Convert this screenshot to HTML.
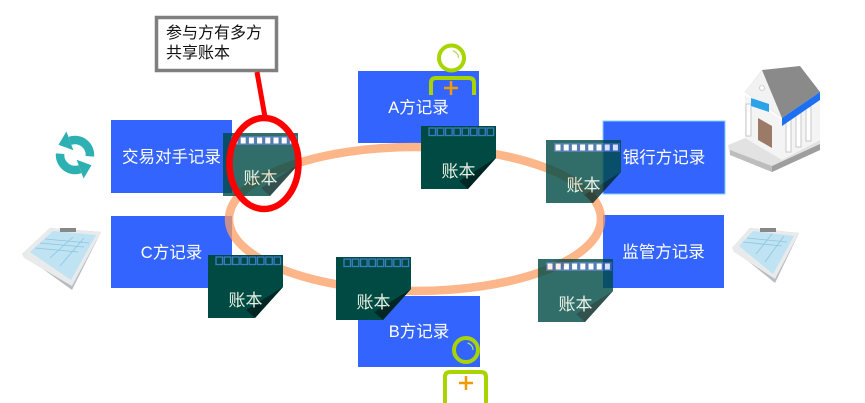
<!DOCTYPE html>
<html><head><meta charset="utf-8">
<style>
html,body{margin:0;padding:0;background:#fff;}
svg{display:block;}
text{font-family:"Liberation Sans","Noto Sans CJK SC",sans-serif;}
</style></head>
<body>
<svg width="865" height="403" viewBox="0 0 865 403" xmlns="http://www.w3.org/2000/svg">
<defs>
  <linearGradient id="fold" x1="0" y1="0" x2="1" y2="1">
    <stop offset="0" stop-color="#00302c"/>
    <stop offset="1" stop-color="#001e1c"/>
  </linearGradient>
  <g id="stripDark">
    <rect x="8" y="2" width="6.5" height="7.5" fill="none" stroke="#3b7cc2" stroke-width="1.3"/>
    <rect x="16.3" y="2" width="6.5" height="7.5" fill="none" stroke="#3b7cc2" stroke-width="1.3"/>
    <rect x="24.6" y="2" width="6.5" height="7.5" fill="none" stroke="#3b7cc2" stroke-width="1.3"/>
    <rect x="32.9" y="2" width="6.5" height="7.5" fill="none" stroke="#3b7cc2" stroke-width="1.3"/>
    <rect x="41.2" y="2" width="6.5" height="7.5" fill="none" stroke="#3b7cc2" stroke-width="1.3"/>
    <rect x="49.5" y="2" width="6.5" height="7.5" fill="none" stroke="#3b7cc2" stroke-width="1.3"/>
    <rect x="57.8" y="2" width="6.5" height="7.5" fill="none" stroke="#3b7cc2" stroke-width="1.3"/>
    <rect x="66.1" y="2" width="6.5" height="7.5" fill="none" stroke="#3b7cc2" stroke-width="1.3"/>
  </g>
  <g id="stripLight">
    <rect x="8" y="3" width="66" height="9" fill="#2d5f9e"/>
    <rect x="9.5" y="4.5" width="5" height="6" fill="#fff"/>
    <rect x="17.7" y="4.5" width="5" height="6" fill="#fff"/>
    <rect x="25.9" y="4.5" width="5" height="6" fill="#fff"/>
    <rect x="34.1" y="4.5" width="5" height="6" fill="#fff"/>
    <rect x="42.3" y="4.5" width="5" height="6" fill="#fff"/>
    <rect x="50.5" y="4.5" width="5" height="6" fill="#fff"/>
    <rect x="58.7" y="4.5" width="5" height="6" fill="#fff"/>
    <rect x="66.9" y="4.5" width="5" height="6" fill="#fff"/>
  </g>
  <g id="card">
    <polygon points="0,0 75,0 75,32 47,63 0,63" fill="#004a44"/>
    <polygon points="75,32 47,63 38,55" fill="url(#fold)"/>
    <text x="37.5" y="51" text-anchor="middle" font-size="17" fill="#e8f0e2">账本</text>
  </g>
  <g id="arrowPiece">
    <path d="M69.9,140.9 A15,15 0 0 1 89.9,156.3" fill="none" stroke="#2db0b2" stroke-width="8.5"/>
    <polygon points="73.4,150.3 66.4,131.5 58.5,144.8" fill="#2db0b2"/>
  </g>
</defs>

<!-- callout box -->
<rect x="156.5" y="17.5" width="120" height="53" fill="#fff" stroke="#7f7f7f" stroke-width="3.5"/>
<text x="166" y="38" font-size="16" fill="#111">参与方有多方</text>
<text x="166" y="58" font-size="16" fill="#111">共享账本</text>

<!-- blue boxes -->
<rect x="111" y="120" width="121" height="73" fill="#3464fe"/>
<text x="171.5" y="162.5" text-anchor="middle" font-size="16.5" fill="#fff">交易对手记录</text>
<rect x="111" y="216" width="121" height="72" fill="#3464fe"/>
<text x="171.5" y="258" text-anchor="middle" font-size="16.5" fill="#fff">C方记录</text>
<rect x="358" y="71" width="121" height="72" fill="#3464fe"/>
<text x="418.5" y="113" text-anchor="middle" font-size="16.5" fill="#fff">A方记录</text>
<rect x="603" y="121" width="122" height="73" fill="#3464fe" stroke="#7fd0ff" stroke-width="1"/>
<text x="664" y="163" text-anchor="middle" font-size="16.5" fill="#fff">银行方记录</text>
<rect x="603" y="215" width="121" height="73" fill="#3464fe"/>
<text x="663.5" y="257.5" text-anchor="middle" font-size="16.5" fill="#fff">监管方记录</text>
<rect x="358" y="296" width="122" height="71" fill="#3464fe"/>
<text x="419" y="337" text-anchor="middle" font-size="16.5" fill="#fff">B方记录</text>

<!-- ring -->
<ellipse cx="415" cy="219" rx="186" ry="72" fill="none" stroke="#fc9e63" stroke-opacity="0.75" stroke-width="8.5"/>

<!-- ledgers -->
<g transform="translate(421,126)"><use href="#card"/><use href="#stripDark"/></g>
<g transform="translate(208,255)"><use href="#card"/><use href="#stripDark"/></g>
<g transform="translate(336,257)"><use href="#card"/><use href="#stripDark"/></g>
<g transform="translate(223,133)" opacity="0.8"><use href="#card"/><use href="#stripLight"/></g>
<g transform="translate(546,140)" opacity="0.8"><use href="#card"/><use href="#stripLight"/></g>
<g transform="translate(538,259)" opacity="0.8"><use href="#card"/><use href="#stripLight"/></g>

<!-- red highlight -->
<line x1="257" y1="72" x2="265" y2="117" stroke="#f00" stroke-width="5"/>
<ellipse cx="264" cy="163.5" rx="34.5" ry="45.5" fill="none" stroke="#f00" stroke-width="6.5"/>

<!-- person A -->
<circle cx="451.5" cy="58" r="12.5" fill="none" stroke="#a8d400" stroke-width="4"/>
<path d="M453,51 A7,7 0 0 1 458.5,58" fill="none" stroke="#b8d860" stroke-width="1.2"/>
<path d="M431,95 V83 Q431,78 436,78 H469 Q474,78 474,83 V95" fill="none" stroke="#a8d400" stroke-width="4"/>
<path d="M444,88 H458 M451,81 V95" stroke="#f39a00" stroke-width="2.5"/>

<!-- person B -->
<circle cx="466" cy="350" r="12" fill="none" stroke="#a8d400" stroke-width="4"/>
<path d="M467.5,343 A7,7 0 0 1 473,350" fill="none" stroke="#b8d860" stroke-width="1.2"/>
<path d="M445,403 V377 Q445,372 450,372 H481 Q486,372 486,377 V403" fill="none" stroke="#a8d400" stroke-width="4"/>
<path d="M459,383 H473 M466,376 V390" stroke="#f39a00" stroke-width="2.5"/>

<!-- refresh icon -->
<use href="#arrowPiece"/>
<use href="#arrowPiece" transform="rotate(180 75 155)"/>

<!-- clipboard left -->
<polygon points="22,254 50,228 101,232 72,290" fill="#b9bcc0"/>
<polygon points="22,254 50,228 101,232 72,286 24,258" fill="#e8eaec"/>
<polygon points="30,252 53,231 96,235 71,280" fill="#bfe3f2"/>
<g stroke="#8cc6e0" stroke-width="0.8">
  <line x1="35" y1="248" x2="78" y2="252"/>
  <line x1="40" y1="243" x2="84" y2="247"/>
  <line x1="45" y1="239" x2="89" y2="243"/>
  <line x1="50" y1="258" x2="73" y2="237"/>
  <line x1="60" y1="266" x2="84" y2="238"/>
</g>
<rect x="60" y="228" width="16" height="4" fill="#888"/>

<!-- clipboard right -->
<polygon points="732,248 750,228 799,233 775,283" fill="#b9bcc0"/>
<polygon points="732,248 750,228 799,233 775,279 734,252" fill="#e8eaec"/>
<polygon points="739,246 753,231 794,236 773,274" fill="#bfe3f2"/>
<g stroke="#8cc6e0" stroke-width="0.8">
  <line x1="743" y1="242" x2="782" y2="246"/>
  <line x1="747" y1="238" x2="787" y2="242"/>
  <line x1="756" y1="254" x2="772" y2="234"/>
  <line x1="765" y1="262" x2="784" y2="236"/>
</g>
<rect x="760" y="228" width="16" height="4" fill="#888"/>

<!-- bank icon -->
<polygon points="728,145 770,128 820,138 820,150 772,172 730,155" fill="#e2e2e2"/>
<polygon points="730,155 772,172 772,166 730,150" fill="#bdbdbd"/>
<polygon points="772,172 820,150 820,144 772,166" fill="#9e9e9e"/>
<polygon points="745,95 782,120 820,98 820,140 782,160 745,138" fill="#f4f4f4"/>
<g fill="#ffffff" stroke="#c9c9c9" stroke-width="1">
  <rect x="786" y="118" width="5" height="34"/>
  <rect x="796" y="113" width="5" height="34"/>
  <rect x="806" y="107" width="5" height="34"/>
  <rect x="746" y="104" width="5" height="32"/>
</g>
<polygon points="758,118 772,126 772,148 758,140" fill="#9c7a68"/>
<polygon points="745,92 762,70 800,66 820,92 782,118" fill="#8a8a8a"/>
<polygon points="745,92 762,70 782,118" fill="#f2f2f2"/>
<polygon points="782,118 820,92 820,100 782,126" fill="#1d6ff2"/>
<polygon points="751,98 769,104 769,112 751,106" fill="#2aa3e8"/>
<circle cx="762" cy="88" r="2.5" fill="#fff" stroke="#bbb" stroke-width="0.6"/>
</svg>
</body></html>
